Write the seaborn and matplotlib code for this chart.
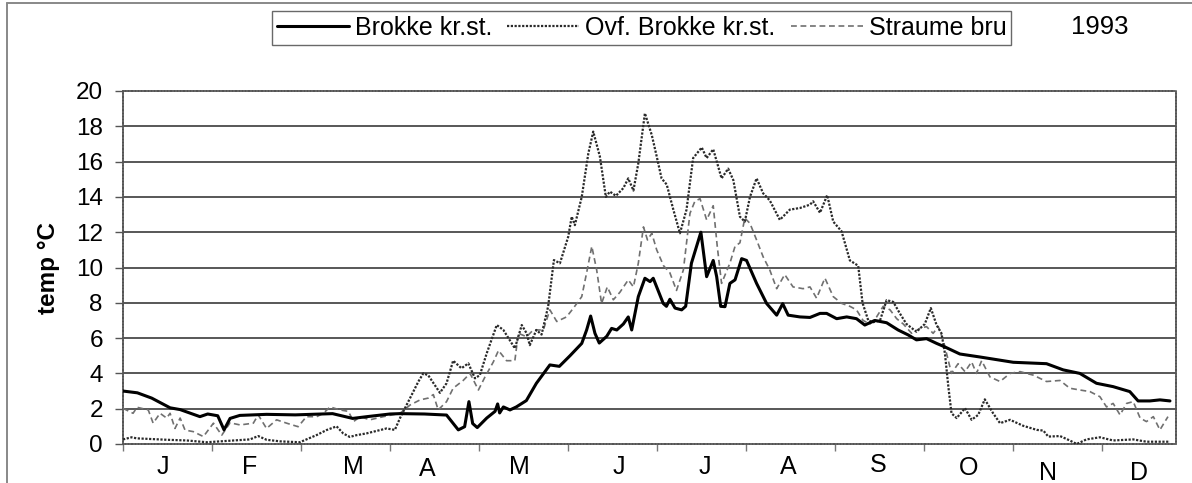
import matplotlib
matplotlib.use("Agg")
import matplotlib.pyplot as plt
import matplotlib.transforms as mtransforms
from matplotlib.lines import Line2D
import seaborn as sns
import pandas as pd

# ---------------- data (day of year, temperature °C) ----------------
brokke_day = [0, 5, 10, 16.4, 19.9, 26.8, 29.5, 33, 35.2, 37.3, 40.7, 50, 60, 73, 80, 85, 93,
              96.5, 105, 112.7, 116.8, 119, 120.5, 121.8, 123.4, 126.7, 129.6, 130.5, 131.2,
              132.5, 134.8, 137, 140.5, 144, 148.7, 152, 155.7, 159.8, 161.5, 162.9, 164.4,
              165.9, 168.5, 170.2, 172, 174.3, 176, 177.2, 179.5, 181.8, 183.6, 184.7, 188.2,
              189.3, 190.5, 192.3, 194.6, 196, 198, 201.3, 203.3, 205.6, 206.8, 208.2, 209.7,
              211.4, 213.2, 215.5, 217.2, 220.7, 224.2, 227.7, 229.8, 231.7, 235.8, 239.3,
              242.8, 245.1, 248.6, 252.1, 255.5, 258.4, 261.9, 266, 270, 273.5, 276.4, 279.9,
              283.4, 286.3, 291.5, 298.5, 310.1, 321.7, 327.5, 333.3, 339.1, 344.9, 350.7,
              353.6, 357.7, 361.2, 364.7]
brokke_val = [3.0, 2.9, 2.6, 2.05, 1.95, 1.55, 1.7, 1.6, 0.8, 1.45, 1.62, 1.68, 1.65, 1.72,
              1.45, 1.55, 1.7, 1.72, 1.7, 1.64, 0.8, 0.98, 2.4, 1.16, 0.93, 1.47, 1.85, 2.27,
              1.76, 2.1, 1.93, 2.1, 2.46, 3.44, 4.48, 4.4, 5.0, 5.7, 6.46, 7.25, 6.27, 5.72,
              6.1, 6.55, 6.46, 6.8, 7.2, 6.46, 8.35, 9.39, 9.2, 9.39, 7.96, 7.8, 8.2, 7.7, 7.6,
              7.8, 10.24, 12.0, 9.48, 10.4, 9.48, 7.8, 7.78, 9.1, 9.3, 10.5, 10.4, 9.1, 7.96,
              7.3, 7.95, 7.3, 7.2, 7.17, 7.4, 7.4, 7.1, 7.2, 7.1, 6.74, 7.0, 6.87, 6.46, 6.18,
              5.9, 5.97, 5.7, 5.5, 5.1, 4.93, 4.63, 4.55, 4.2, 4.0, 3.44, 3.25, 2.97, 2.44,
              2.44, 2.5, 2.44]

ovf_day = [0, 3, 4.8, 15.2, 22.2, 29.2, 38.4, 44.2, 47.1, 50, 54.7, 61.6, 67.5, 70.9, 74.4,
           76.7, 79, 81.3, 84.8, 91.8, 94.7, 96.5, 100, 102.9, 104.6, 106.3, 110.4, 112.7,
           115, 117.9, 120.3, 122.6, 124.3, 126.7, 130.2, 132.5, 136.5, 138.9, 140.6, 141.7,
           144, 145.8, 148.1, 150.1, 152.2, 155.1, 156.3, 157.4, 159.8, 162.1, 163.8, 166.1,
           168.2, 169.6, 171.7, 174.3, 176, 177.8, 179.5, 181.8, 184.2, 185.9, 187.6, 189.4,
           191.7, 194, 196.3, 198.6, 201.6, 203.3, 205.6, 208.5, 210.8, 212.6, 214.9, 216.6,
           218.4, 220.7, 223, 225.3, 228.8, 232.3, 235.8, 239.3, 240.4, 242.8, 245.3, 247.4,
           250.3, 253.2, 256.1, 257.6, 259.6, 261.3, 263.7, 266, 268.3, 270.6, 272.9, 276.4,
           279.3, 281.4, 283.4, 285.1, 286.3, 287.5, 288.6, 290.4, 293.3, 295.6, 297.9,
           300.2, 303.1, 305.5, 309, 313.6, 318.3, 320.6, 322.3, 326.4, 329.8, 332.2, 335.6,
           340.3, 344.9, 351.9, 356.5, 364.7]
ovf_val = [0.26, 0.38, 0.32, 0.24, 0.2, 0.1, 0.2, 0.26, 0.45, 0.24, 0.15, 0.1, 0.51, 0.79, 1.0,
           0.6, 0.4, 0.5, 0.6, 0.88, 0.8, 1.47, 2.6, 3.54, 4.0, 3.9, 2.9, 3.44, 4.72, 4.29,
           4.57, 3.72, 3.9, 5.14, 6.74, 6.46, 5.42, 6.74, 6.27, 5.6, 6.46, 6.2, 7.8, 10.42,
           10.24, 11.75, 12.88, 12.4, 14.0, 16.47, 17.7, 16.3, 14.0, 14.3, 14.06, 14.5, 15.05,
           14.36, 15.9, 18.74, 17.5, 16.3, 15.05, 14.7, 13.28, 11.94, 13.28, 16.2, 16.8, 16.2,
           16.7, 15.05, 15.6, 14.95, 12.88, 12.6, 14.0, 15.05, 14.2, 13.8, 12.7, 13.28, 13.37,
           13.56, 13.75, 13.1, 14.1, 12.6, 12.05, 10.4, 10.1, 8.0, 7.0, 6.9, 7.0, 8.15, 8.05,
           7.4, 6.8, 6.36, 6.8, 7.7, 6.74, 6.27, 5.14, 3.25, 1.74, 1.47, 2.03, 1.37, 1.65,
           2.53, 1.74, 1.18, 1.37, 1.03, 0.8, 0.76, 0.42, 0.45, 0.2, 0.0, 0.26, 0.38, 0.2,
           0.26, 0.13, 0.13]

straume_day = [0, 3.5, 4.9, 8.8, 10.5, 12.9, 15.2, 16.4, 18.1, 19.9, 21.6, 24.5, 28, 31.5,
               34.4, 37.3, 40.8, 45.4, 47.1, 50, 53.5, 57, 61, 63.9, 67.5, 69.8, 72.1, 75.6,
               78.5, 80.3, 82.6, 86, 90.7, 96.5, 100, 103.5, 106.3, 108.1, 109.8, 112.7, 115,
               118.5, 120.9, 123.8, 126.1, 129, 130.8, 133.6, 136.5, 137.7, 140.6, 142.9,
               146.4, 148.7, 151.1, 154.5, 156.9, 159.8, 161.5, 163.3, 165, 166.7, 168.7,
               170.8, 173.1, 176, 177.8, 179.5, 181.3, 182.7, 184.2, 185.9, 188.3, 190.5,
               192.8, 195.2, 197.5, 199.2, 201, 203.3, 205.6, 207, 208.5, 211.4, 213.2, 214.9,
               216.6, 218.4, 220.7, 223, 225.3, 227.7, 230.5, 233.4, 236.9, 239.3, 241.6,
               244.5, 247.4, 250.3, 253.2, 255.5, 257.8, 260.2, 262.5, 264.8, 267.2, 269.5,
               271.8, 274.7, 277.6, 279.9, 282.2, 284, 285.7, 287.5, 288.6, 290.9, 293.3,
               295.6, 297.3, 299.1, 302, 305.5, 309, 312.5, 317.1, 321.7, 326.4, 329.8, 333.3,
               336.8, 340.3, 342.6, 344.9, 347.3, 349.6, 351.9, 354.3, 356.5, 358.9, 361.2, 364]
straume_val = [2.02, 1.74, 2.08, 1.93, 1.18, 1.74, 1.47, 1.74, 0.88, 1.47, 0.79, 0.7, 0.42,
               1.18, 0.5, 1.2, 1.08, 1.18, 1.65, 0.88, 1.37, 1.18, 0.98, 1.55, 1.55, 1.74, 2.1,
               1.93, 1.85, 1.27, 1.55, 1.37, 1.55, 1.74, 2.21, 2.5, 2.6, 2.8, 1.93, 2.4, 3.16,
               3.6, 4.0, 3.06, 3.8, 4.65, 5.3, 4.72, 4.72, 6.27, 6.08, 6.46, 6.46, 7.6, 6.94,
               7.2, 7.7, 8.35, 9.7, 11.2, 9.86, 7.96, 8.9, 8.17, 8.6, 9.3, 8.9, 10.24, 12.3,
               11.56, 11.94, 11.0, 10.1, 9.7, 8.7, 9.86, 13.07, 13.75, 13.9, 12.7, 13.5, 11.2,
               9.1, 10.24, 11.2, 11.4, 12.8, 12.5, 11.56, 10.6, 9.86, 8.8, 9.6, 8.9, 8.8, 8.9,
               8.26, 9.4, 8.35, 7.97, 7.8, 7.6, 7.0, 6.8, 7.2, 7.8, 7.6, 7.1, 6.8, 6.27, 6.55,
               6.65, 6.27, 6.65, 5.9, 4.72, 4.0, 4.55, 4.1, 4.65, 4.0, 4.72, 3.8, 3.54, 4.0,
               4.1, 3.9, 3.54, 3.6, 3.16, 3.06, 2.97, 2.68, 2.1, 2.3, 1.65, 2.3, 2.4, 1.47,
               1.27, 1.55, 0.8, 1.55]

series_names = ["Brokke kr.st.", "Ovf. Brokke kr.st.", "Straume bru"]
month_labels = ["J", "F", "M", "A", "M", "J", "J", "A", "S", "O", "N", "D"]
month_tick_days = [0, 31, 62, 93, 124, 155, 186, 217, 248, 279, 310, 341]
y_ticks = [0, 2, 4, 6, 8, 10, 12, 14, 16, 18, 20]
year_text = "1993"
y_title = "temp °C"

# ---------------- layout (label placement, px in the 1192x483 canvas) ----------------
month_label_x = [13.9, 44.2, 80.1, 105.9, 137.9, 172.8, 202.7, 231.6, 263.0, 294.7, 322.2, 353.9]
month_label_baseline_px = [474, 474, 474, 476, 474, 474, 474, 474, 472, 475, 480, 480]

W, H = 1192, 483
sns.set_theme(style="white")
plt.rcParams["font.family"] = ["Liberation Sans", "DejaVu Sans"]

fig = plt.figure(figsize=(W / 100, H / 100), dpi=100)
ax_l, ax_r, ax_t, ax_b = 123, 1176, 91, 444
ax = fig.add_axes([ax_l / W, 1 - ax_b / H, (ax_r - ax_l) / W, (ax_b - ax_t) / H])

df_b = pd.DataFrame({"day": brokke_day, "temp": brokke_val})
df_o = pd.DataFrame({"day": ovf_day, "temp": ovf_val})
df_s = pd.DataFrame({"day": straume_day, "temp": straume_val})

sns.lineplot(data=df_b, x="day", y="temp", ax=ax, color="black", lw=2.2,
             label=series_names[0], sort=False, zorder=5)
sns.lineplot(data=df_o, x="day", y="temp", ax=ax, color="#2a2a2a", lw=1.6,
             linestyle=(0, (1.0, 0.7)), label=series_names[1], sort=False, zorder=4)
sns.lineplot(data=df_s, x="day", y="temp", ax=ax, color="#707070", lw=1.2,
             linestyle=(0, (3.5, 2.2)), label=series_names[2], sort=False, zorder=3)

handles, labels = ax.get_legend_handles_labels()
if ax.get_legend() is not None:
    ax.get_legend().remove()

ax.set_xlim(0, 366.8)
ax.set_ylim(0, 20)
ax.set_yticks(y_ticks)
ax.set_yticklabels([str(v) for v in y_ticks])
ax.set_xticks(month_tick_days)
ax.set_xticklabels([])
ax.set_xlabel("")
ax.set_ylabel(y_title, fontsize=17.5, fontweight="bold", color="black")
ax.yaxis.set_label_coords(-(ax_l - 60) / (ax_r - ax_l), 0.5)

ax.yaxis.grid(True, color="#4a4a4a", lw=1.3, linestyle="-")
ax.xaxis.grid(False)
gl = ax.get_ygridlines()
gl[0].set_visible(False)
gl[-1].set_visible(False)
ax.set_axisbelow(True)

for side in ["left", "right", "top", "bottom"]:
    ax.spines[side].set_visible(True)
    ax.spines[side].set_color("#555555")
    ax.spines[side].set_linewidth(1.3)
    ax.spines[side].set_linestyle((0, (1, 0.8)))

ax.tick_params(axis="y", which="major", direction="out", length=6, width=1, color="#555555",
               labelsize=17.5, pad=8.5, left=True, labelcolor="black")
ax.tick_params(axis="x", which="major", direction="out", length=5, width=1, color="#777777",
               bottom=True)

# month letters
trans = mtransforms.blended_transform_factory(ax.transData, fig.transFigure)
for lab, xd, by in zip(month_labels, month_label_x, month_label_baseline_px):
    ax.text(xd, 1 - by / H, lab, transform=trans, ha="center", va="baseline",
            fontsize=18, color="black", clip_on=False)

# legend
leg = fig.legend(handles, labels, loc="upper left", bbox_to_anchor=(272 / W, 1 - 11 / H),
                 ncol=3, frameon=True, fancybox=False, edgecolor="#444444",
                 fontsize=18, handlelength=2.88, handletextpad=0.24, columnspacing=0.6,
                 borderpad=0.2, borderaxespad=0)
leg.get_frame().set_linewidth(1.0)
for t in leg.get_texts():
    t.set_color("black")

fig.text(1100 / W, 1 - 27 / H, year_text, ha="center", va="center", fontsize=18.5, color="black")

# scanned page frame (left and top edges)
fig.add_artist(Line2D([7 / W, 7 / W], [0, 1 - 3 / H], transform=fig.transFigure,
                      color="#888888", lw=1.4))
fig.add_artist(Line2D([7 / W, 1], [1 - 3 / H, 1 - 3 / H], transform=fig.transFigure,
                      color="#888888", lw=1.4))

fig.savefig("out.png", dpi=100, facecolor="white")
